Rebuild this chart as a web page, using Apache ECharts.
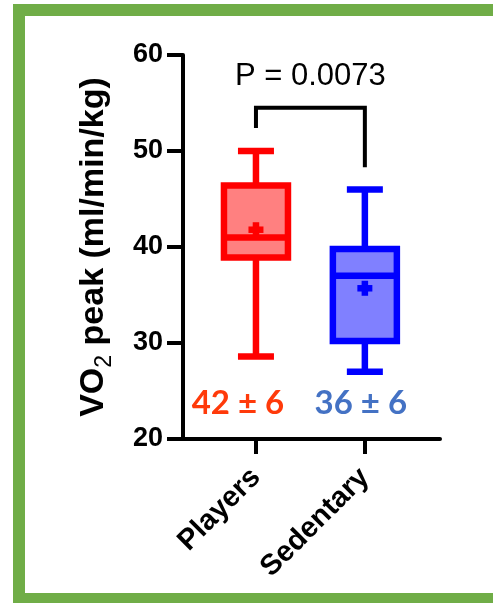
<!DOCTYPE html>
<html>
<head>
<meta charset="utf-8">
<script src="https://cdn.jsdelivr.net/npm/echarts@6/dist/echarts.min.js"></script>
<style>html,body{margin:0;padding:0;background:#fff}#c{width:493px;height:603px}</style>
</head>
<body>
<div id="c"></div>
<script>
// ---- data ----
const categories = ['Players', 'Sedentary'];
const minVals = [28.6, 27.0];
const q1Vals = [38.9, 30.2];
const medianVals = [41.0, 37.0];
const q3Vals = [46.4, 39.8];
const maxVals = [50.0, 46.0];
const meanVals = [41.8, 35.7];
const summaryLabels = ['42 ± 6', '36 ± 6'];
const yTicks = [20, 30, 40, 50, 60];
const pValueText = 'P = 0.0073';
const bracketTop = 54.5;
const bracketLegEnds = [52.4, 48.3];
const summaryLabelY = 23.7;
const pValueY = 57.8;

const strokeColors = ['#FF0000', '#0000FF'];
const fillColors = ['#FF8080', '#8080FF'];
const labelColors = ['#FF3A0A', '#4472C4'];
const arial = '"Liberation Sans", Arial, sans-serif';

const chart = echarts.init(document.getElementById('c'), null, {renderer: 'canvas'});

const boxData = categories.map((c, i) => [i, minVals[i], q1Vals[i], medianVals[i], q3Vals[i], maxVals[i], meanVals[i]]);

function renderBox(params, api) {
  const i = api.value(0);
  const cx = api.coord([i, yTicks[0]])[0];
  const Y = v => api.coord([i, v])[1];
  const yMin = Y(api.value(1)), yQ1 = Y(api.value(2)), yMed = Y(api.value(3));
  const yQ3 = Y(api.value(4)), yMax = Y(api.value(5)), yMean = Y(api.value(6));
  const lw = 6.5, hb = 32, hc = 18, hm = 7.5, tm = 6.5;
  const stroke = strokeColors[i], fill = fillColors[i];
  const ls = {stroke: stroke, lineWidth: lw, lineCap: 'butt'};
  return {
    type: 'group',
    children: [
      {type: 'line', shape: {x1: cx, y1: yMax, x2: cx, y2: yQ3}, style: ls},
      {type: 'line', shape: {x1: cx, y1: yQ1, x2: cx, y2: yMin}, style: ls},
      {type: 'line', shape: {x1: cx - hc, y1: yMax, x2: cx + hc, y2: yMax}, style: ls},
      {type: 'line', shape: {x1: cx - hc, y1: yMin, x2: cx + hc, y2: yMin}, style: ls},
      {type: 'rect', shape: {x: cx - hb, y: yQ3, width: 2 * hb, height: yQ1 - yQ3},
        style: {fill: fill, stroke: stroke, lineWidth: lw, lineJoin: 'miter'}},
      {type: 'line', shape: {x1: cx - hb, y1: yMed, x2: cx + hb, y2: yMed}, style: ls},
      {type: 'rect', shape: {x: cx - hm, y: yMean - tm / 2, width: 2 * hm, height: tm}, style: {fill: stroke}},
      {type: 'rect', shape: {x: cx - tm / 2, y: yMean - hm, width: tm, height: 2 * hm}, style: {fill: stroke}}
    ]
  };
}

const labelOffsets = [-18, -4];
function renderLabels(params, api) {
  const i = params.dataIndex;
  const p = api.coord([api.value(0), api.value(1)]);
  return {
    type: 'text',
    x: p[0] + labelOffsets[i], y: p[1],
    style: {
      text: summaryLabels[i], fill: labelColors[i],
      font: 'bold 33px Lato, "Open Sans", sans-serif',
      align: 'center', verticalAlign: 'middle'
    }
  };
}

function renderBracket(params, api) {
  const a = api.coord([0, bracketLegEnds[0]]);
  const b = api.coord([0, bracketTop]);
  const c = api.coord([1, bracketTop]);
  const d = api.coord([1, bracketLegEnds[1]]);
  const t = api.coord([0.5, pValueY]);
  return {
    type: 'group',
    children: [
      {type: 'polyline', shape: {points: [a, b, c, d]},
        style: {stroke: '#000', lineWidth: 4, fill: null, lineJoin: 'miter'}},
      {type: 'text', x: t[0], y: t[1],
        style: {text: pValueText, fill: '#000', font: '31px ' + arial, align: 'center', verticalAlign: 'middle'}}
    ]
  };
}

const option = {
  animation: false,
  backgroundColor: '#ffffff',
  graphic: [{
    type: 'rect', silent: true, z: 100,
    shape: {x: 19, y: 10, width: 500, height: 589},
    style: {fill: null, stroke: '#70AD47', lineWidth: 12}
  }],
  grid: {left: 183, right: 53, top: 55, bottom: 164, containLabel: false},
  xAxis: {
    type: 'value', min: -0.67, max: 1.69,
    splitLine: {show: false},
    axisLine: {show: true, onZero: false, lineStyle: {color: '#000', width: 4}},
    axisTick: {show: true, customValues: [0, 1], length: 15, lineStyle: {color: '#000', width: 4}},
    axisLabel: {
      show: true, customValues: [0, 1], rotate: 45, margin: 34,
      formatter: v => categories[Math.round(v)] || '',
      color: '#000', fontFamily: arial, fontWeight: 'bold', fontSize: 29
    }
  },
  yAxis: {
    type: 'value', min: yTicks[0], max: yTicks[yTicks.length - 1], interval: 10,
    splitLine: {show: false},
    axisLine: {show: true, onZero: false, lineStyle: {color: '#000', width: 4}},
    axisTick: {show: true, inside: false, length: 16, lineStyle: {color: '#000', width: 4}},
    axisLabel: {margin: 20, color: '#000', fontFamily: arial, fontWeight: 'bold', fontSize: 27},
    name: '{b|VO}{s|2}{b| peak (ml/min/kg)}',
    nameLocation: 'middle', nameRotate: 90, nameGap: 72,
    nameTextStyle: {
      color: '#000', fontFamily: arial, fontWeight: 'bold', fontSize: 34,
      rich: {
        b: {color: '#000', fontFamily: arial, fontWeight: 'bold', fontSize: 34},
        s: {color: '#000', fontFamily: arial, fontWeight: 'normal', fontSize: 23, verticalAlign: 'bottom', padding: [0, 0, -5, 0]}
      }
    }
  },
  series: [
    {type: 'custom', renderItem: renderBox, data: boxData, encode: {x: 0, y: [1, 2, 3, 4, 5, 6]}, z: 3},
    {type: 'custom', renderItem: renderLabels, data: categories.map((c, i) => [i, summaryLabelY]), encode: {x: 0, y: 1}, z: 4},
    {type: 'custom', renderItem: renderBracket, data: [[0, bracketTop]], encode: {x: 0, y: 1}, clip: false, z: 4}
  ]
};
chart.setOption(option);
</script>
</body>
</html>
